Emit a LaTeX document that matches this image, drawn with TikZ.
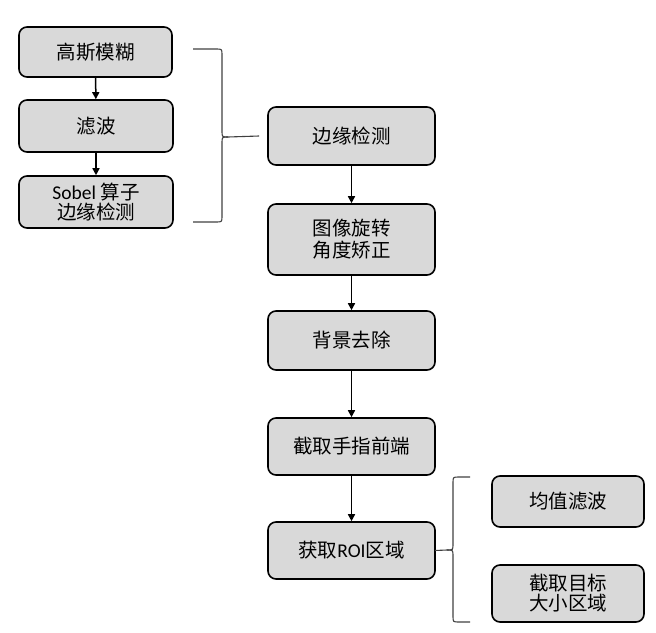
\documentclass[tikz,border=0pt]{standalone}
\usepackage{fontspec}
\setmainfont{Noto Sans CJK SC}
\newfontfamily\latf{Carlito}
\usetikzlibrary{arrows.meta}
\definecolor{boxfill}{HTML}{D9D9D9}
\definecolor{bracecol}{HTML}{404040}
\begin{document}
\begin{tikzpicture}[x=1pt,y=-1pt,
  stepbox/.style={draw=black, line width=1.6pt, fill=boxfill, rounded corners=8pt,
    inner sep=0pt, align=center, font=\fontsize{19.5}{24}\selectfont},
  arr/.style={line width=1.5pt, -{Triangle[width=7pt,length=7pt]}},
  bracel/.style={draw=bracecol, line width=1.1pt}]
\useasboundingbox (0,0) rectangle (656,632);
% left column
\node[stepbox, minimum width=153pt, minimum height=50pt] (a1) at (95.5,52) {高斯模糊};
\node[stepbox, minimum width=154pt, minimum height=52pt] (a2) at (96,126) {滤波};
\node[stepbox, minimum width=154pt, minimum height=52pt] (a3) at (96,202) {{\latf Sobel} 算子\\[-4pt]边缘检测};
% middle column
\node[stepbox, minimum width=167pt, minimum height=58pt] (b1) at (351.5,136) {边缘检测};
\node[stepbox, minimum width=167pt, minimum height=71pt] (b2) at (351.5,239.5) {图像旋转\\[-2pt]角度矫正};
\node[stepbox, minimum width=167pt, minimum height=59pt] (b3) at (351.5,340.5) {背景去除};
\node[stepbox, minimum width=167pt, minimum height=57pt] (b4) at (351.5,446.5) {截取手指前端};
\node[stepbox, minimum width=167pt, minimum height=57pt] (b5) at (351.5,550.5) {获取{\latf ROI}区域};
% right column
\node[stepbox, minimum width=152pt, minimum height=51pt] (c1) at (568,501.5) {均值滤波};
\node[stepbox, minimum width=152pt, minimum height=57pt] (c2) at (568,593.5) {截取目标\\[-4pt]大小区域};
% arrows
\draw[arr] (a1) -- (a2);
\draw[arr] (a2) -- (a3);
\draw[arr] (b1) -- (b2);
\draw[arr] (b2) -- (b3);
\draw[arr] (b3) -- (b4);
\draw[arr] (b4) -- (b5);
% left brace
\coordinate (lbt) at (193,49);
\coordinate (lbb) at (193,222);
\coordinate (lbm) at ([xshift=-8pt]b1.west);
\draw[bracel] (lbt) -- (216,49) .. controls (222,49) .. (222,55) -- (222,131)
  .. controls (222,137) .. (228,137) -- (lbm);
\draw[bracel] (228,137) .. controls (222,137) .. (222,143) -- (222,216)
  .. controls (222,222) .. (216,222) -- (lbb);
% right brace
\coordinate (rbt) at (470,477);
\coordinate (rbb) at (470,622);
\coordinate (rbm) at ([xshift=-1pt]b5.east);
\draw[bracel] (rbt) -- (459,477) .. controls (453,477) .. (453,483) -- (453,544)
  .. controls (453,550) .. (447,550) -- (rbm);
\draw[bracel] (447,550) .. controls (453,550) .. (453,556) -- (453,616)
  .. controls (453,622) .. (459,622) -- (rbb);
\end{tikzpicture}
\end{document}
